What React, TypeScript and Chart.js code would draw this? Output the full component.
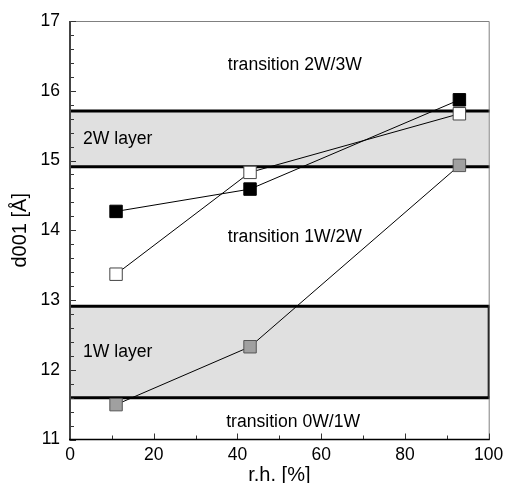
import React, { useEffect, useRef } from "react";
import { Chart, registerables } from "chart.js";

Chart.register(...registerables);

// relative humidity [%]
const humidity = [11, 43, 93];
// d001 [Å] per sample
const sampleBlack = [14.27, 14.59, 15.87];
const sampleWhite = [13.37, 14.83, 15.67];
const sampleGray = [11.5, 12.33, 14.93];

const xTicks = [0, 20, 40, 60, 80, 100];
const yTicks = [11, 12, 13, 14, 15, 16, 17];

// hydration layer bands (d001 range)
const bandLower = [11.6, 14.91];
const bandUpper = [12.91, 15.71];
const bandLabels = ["1W layer", "2W layer"];
const bandLabelX = [3.1, 3.1];
const bandLabelY = [12.25, 15.3];

const regionLabels = ["transition 0W/1W", "transition 1W/2W", "transition 2W/3W"];
const regionLabelX = [37.3, 37.7, 37.7];
const regionLabelY = [11.25, 13.9, 16.37];

const FONT = "'Liberation Sans', Arial, sans-serif";

const decor = {
  id: "decor",
  beforeDatasetsDraw(chart: any) {
    const { ctx, chartArea: a, scales } = chart;
    const x = scales.x;
    const y = scales.y;
    ctx.save();
    for (let i = 0; i < bandLower.length; i++) {
      const top = y.getPixelForValue(bandUpper[i]);
      const bot = y.getPixelForValue(bandLower[i]);
      ctx.fillStyle = "#e0e0e0";
      ctx.fillRect(a.left, top, a.right - a.left, bot - top);
    }
    ctx.strokeStyle = "#000";
    ctx.lineWidth = 3;
    for (let i = 0; i < bandLower.length; i++) {
      for (const v of [bandLower[i], bandUpper[i]]) {
        const py = y.getPixelForValue(v);
        ctx.beginPath();
        ctx.moveTo(a.left, py);
        ctx.lineTo(a.right + 1, py);
        ctx.stroke();
      }
    }
    // right edge of 1W band
    ctx.lineWidth = 2;
    ctx.beginPath();
    ctx.moveTo(a.right, y.getPixelForValue(bandUpper[0]));
    ctx.lineTo(a.right, y.getPixelForValue(bandLower[0]));
    ctx.stroke();

    ctx.fillStyle = "#000";
    ctx.font = `17.6px ${FONT}`;
    ctx.textAlign = "left";
    ctx.textBaseline = "middle";
    for (let i = 0; i < bandLabels.length; i++) {
      ctx.fillText(bandLabels[i], x.getPixelForValue(bandLabelX[i]), y.getPixelForValue(bandLabelY[i]));
    }
    for (let i = 0; i < regionLabels.length; i++) {
      ctx.fillText(regionLabels[i], x.getPixelForValue(regionLabelX[i]), y.getPixelForValue(regionLabelY[i]));
    }
    ctx.restore();
  },
  afterDraw(chart: any) {
    const { ctx, chartArea: a, scales } = chart;
    const x = scales.x;
    const y = scales.y;
    ctx.save();
    // top & right frame
    ctx.strokeStyle = "#808080";
    ctx.lineWidth = 1;
    ctx.beginPath();
    ctx.moveTo(a.left, a.top + 0.5);
    ctx.lineTo(a.right + 0.5, a.top + 0.5);
    ctx.lineTo(a.right + 0.5, a.bottom);
    ctx.stroke();
    // ticks
    ctx.strokeStyle = "#333";
    ctx.lineWidth = 1;
    for (let v = 11; v <= 17.001; v += 0.2) {
      const py = Math.round(y.getPixelForValue(v)) + 0.5;
      const major = Math.abs(v - Math.round(v)) < 0.01;
      ctx.beginPath();
      ctx.moveTo(a.left, py);
      ctx.lineTo(a.left + (major ? 6 : 4), py);
      ctx.stroke();
    }
    for (let v = 0; v <= 100; v += 10) {
      const px = Math.round(x.getPixelForValue(v)) + 0.5;
      const major = v % 20 === 0;
      ctx.beginPath();
      ctx.moveTo(px, a.bottom);
      ctx.lineTo(px, a.bottom - (major ? 6 : 4));
      ctx.stroke();
    }
    // axes
    ctx.strokeStyle = "#444";
    ctx.lineWidth = 2;
    ctx.beginPath();
    ctx.moveTo(a.left, a.top);
    ctx.lineTo(a.left, a.bottom + 1);
    ctx.stroke();
    ctx.strokeStyle = "#000";
    ctx.lineWidth = 1.5;
    ctx.beginPath();
    ctx.moveTo(a.left - 1, a.bottom);
    ctx.lineTo(a.right + 1, a.bottom);
    ctx.stroke();
    // titles
    ctx.fillStyle = "#000";
    ctx.font = `20px ${FONT}`;
    ctx.textAlign = "center";
    ctx.textBaseline = "middle";
    ctx.fillText("r.h. [%]", (a.left + a.right) / 2, 475);
    ctx.translate(20, (a.top + a.bottom) / 2);
    ctx.rotate(-Math.PI / 2);
    ctx.fillText("d001 [Å]", 0, 0);
    ctx.restore();
  },
};

function toPoints(values: number[]) {
  return humidity.map((h, i) => ({ x: h, y: values[i] }));
}

export default function App() {
  const ref = useRef<HTMLCanvasElement | null>(null);
  useEffect(() => {
    if (!ref.current) return;
    const mk = (data: number[], fill: string, border: string) => ({
      data: toPoints(data),
      showLine: true,
      borderColor: "#000",
      borderWidth: 1,
      pointStyle: "rect" as const,
      pointRadius: 8.8,
      pointBackgroundColor: fill,
      pointBorderColor: border,
      pointBorderWidth: 1,
      fill: false,
      tension: 0,
    });
    const chart = new Chart(ref.current, {
      type: "scatter",
      data: {
        datasets: [
          mk(sampleGray, "#a0a0a0", "#555"),
          mk(sampleWhite, "#ffffff", "#444"),
          mk(sampleBlack, "#000000", "#000"),
        ],
      },
      options: {
        responsive: false,
        animation: false,
        layout: { padding: { top: 21, right: 16.3, left: 0, bottom: 0 } },
        plugins: { legend: { display: false }, tooltip: { enabled: false } },
        scales: {
          x: {
            type: "linear",
            min: 0,
            max: 100,
            grid: { display: false, drawTicks: false },
            border: { display: false },
            ticks: { color: "#000", font: { size: 17.5, family: FONT }, padding: 5 },
            afterBuildTicks: (s: any) => {
              s.ticks = xTicks.map((v) => ({ value: v }));
            },
            afterFit: (s: any) => {
              s.height = 43.5;
              s.paddingRight = 0;
              s.paddingLeft = 0;
            },
          },
          y: {
            type: "linear",
            min: 11,
            max: 17,
            grid: { display: false, drawTicks: false },
            border: { display: false },
            ticks: { color: "#000", font: { size: 17.5, family: FONT }, padding: 10 },
            afterBuildTicks: (s: any) => {
              s.ticks = yTicks.map((v) => ({ value: v }));
            },
            afterFit: (s: any) => {
              s.width = 70;
              s.paddingTop = 0;
              s.paddingBottom = 0;
            },
          },
        },
      },
      plugins: [decor],
    });
    return () => chart.destroy();
  }, []);
  return (
    <div style={{ position: "absolute", left: 0, top: 0, width: 505, height: 483 }}>
      <canvas ref={ref} width={505} height={483} />
    </div>
  );
}
